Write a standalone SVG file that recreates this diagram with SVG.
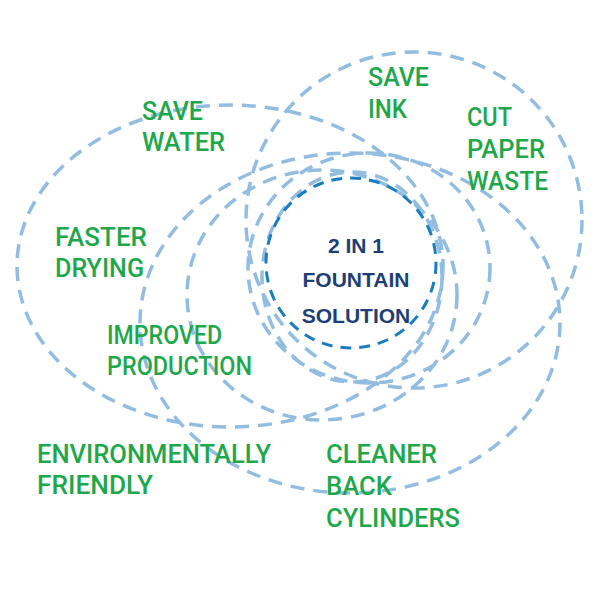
<svg xmlns="http://www.w3.org/2000/svg" width="600" height="600" viewBox="0 0 600 600">
<style>
.ring{fill:none;stroke:#93bde0;stroke-width:3.5;stroke-dasharray:14 9}
.core{fill:none;stroke:#1a7dbf;stroke-width:3;stroke-dasharray:11 8}
.lbl{font-family:Roboto,"Liberation Sans",sans-serif;font-weight:500;font-size:26px;fill:#1ea84b}
.ctr{font-family:"Liberation Sans",Arial,sans-serif;font-weight:bold;font-size:21px;fill:#1e3f75;text-anchor:middle}
</style>
<rect width="600" height="600" fill="#ffffff"/>
<g id="connectors">
<circle class="ring" cx="414" cy="220" r="168"/>
<ellipse class="ring" cx="230" cy="266" rx="213" ry="161"/>
<ellipse class="ring" cx="350" cy="323" rx="210" ry="170"/>
<ellipse class="ring" cx="322" cy="295" rx="135" ry="125"/>
<ellipse class="ring" cx="369" cy="268" rx="121" ry="115"/>
<ellipse class="ring" cx="352" cy="277" rx="90" ry="105"/>
</g>
<g id="center">
<circle class="core" cx="351" cy="263" r="85"/>
<text class="ctr" x="356" y="253">2 IN 1</text>
<text class="ctr" x="356" y="287">FOUNTAIN</text>
<text class="ctr" x="356" y="323">SOLUTION</text>
</g>
<g id="save-water"><text class="lbl" x="142" y="120" textLength="61" lengthAdjust="spacingAndGlyphs">SAVE</text><text class="lbl" x="142" y="151" textLength="83" lengthAdjust="spacingAndGlyphs">WATER</text></g>
<g id="faster-drying"><text class="lbl" x="55" y="246" textLength="92" lengthAdjust="spacingAndGlyphs">FASTER</text><text class="lbl" x="55" y="277" textLength="89" lengthAdjust="spacingAndGlyphs">DRYING</text></g>
<g id="save-ink"><text class="lbl" x="368" y="86" textLength="61" lengthAdjust="spacingAndGlyphs">SAVE</text><text class="lbl" x="368" y="118" textLength="39" lengthAdjust="spacingAndGlyphs">INK</text></g>
<g id="cut-paper-waste"><text class="lbl" x="467" y="126" textLength="45" lengthAdjust="spacingAndGlyphs">CUT</text><text class="lbl" x="467" y="158" textLength="78" lengthAdjust="spacingAndGlyphs">PAPER</text><text class="lbl" x="467" y="190" textLength="81" lengthAdjust="spacingAndGlyphs">WASTE</text></g>
<g id="improved-production"><text class="lbl" x="107" y="344" textLength="115" lengthAdjust="spacingAndGlyphs">IMPROVED</text><text class="lbl" x="107" y="375" textLength="145" lengthAdjust="spacingAndGlyphs">PRODUCTION</text></g>
<g id="environmentally-friendly"><text class="lbl" x="37" y="463" textLength="234" lengthAdjust="spacingAndGlyphs">ENVIRONMENTALLY</text><text class="lbl" x="37" y="494" textLength="116" lengthAdjust="spacingAndGlyphs">FRIENDLY</text></g>
<g id="cleaner-back-cylinders"><text class="lbl" x="326" y="463" textLength="111" lengthAdjust="spacingAndGlyphs">CLEANER</text><text class="lbl" x="326" y="495" textLength="66" lengthAdjust="spacingAndGlyphs">BACK</text><text class="lbl" x="326" y="527" textLength="134" lengthAdjust="spacingAndGlyphs">CYLINDERS</text></g>
</svg>
